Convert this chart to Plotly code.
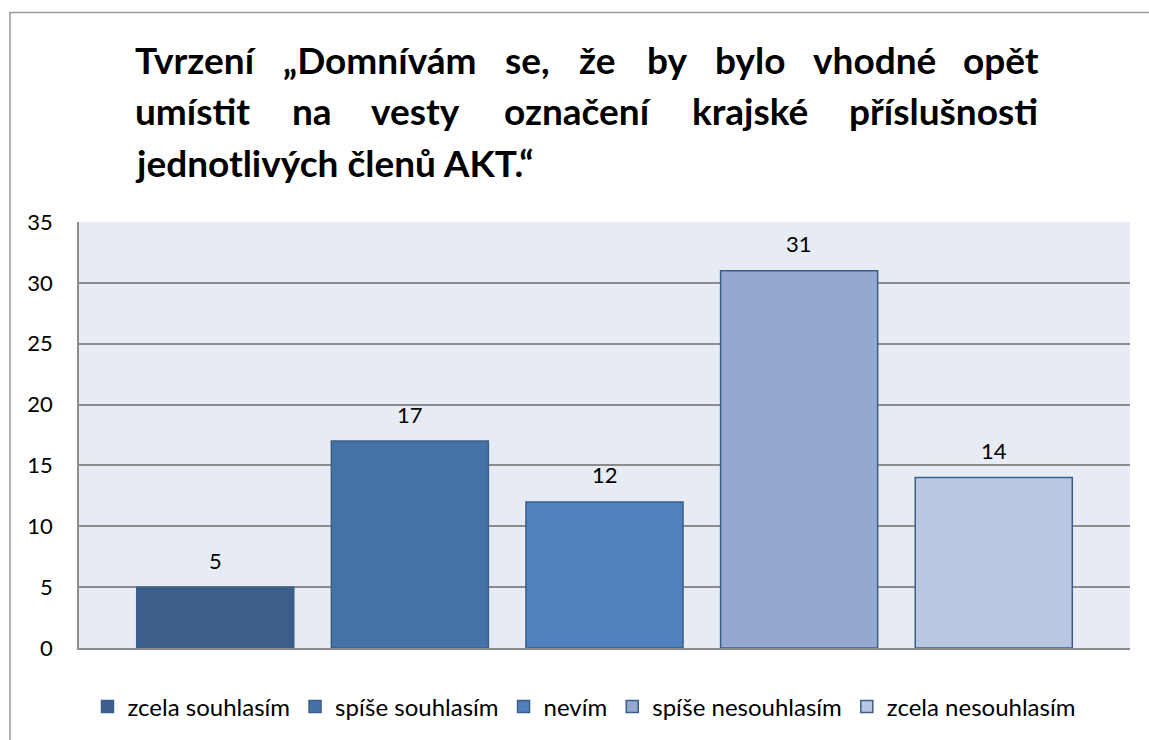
import plotly.graph_objects as go

# ---- data ----
categories = ["zcela souhlasím", "spíše souhlasím", "nevím", "spíše nesouhlasím", "zcela nesouhlasím"]
values = [5, 17, 12, 31, 14]
colors = ["#3B5E8B", "#4472A6", "#4F81BD", "#95A9D0", "#BAC7E0"]
y_ticks = [0, 5, 10, 15, 20, 25, 30, 35]

title_line1 = ["Tvrzení", "„Domnívám", "se,", "že", "by", "bylo", "vhodné", "opět"]
title_line2 = ["umístit", "na", "vesty", "označení", "krajské", "příslušnosti"]
title_line3 = "jednotlivých členů AKT.“"

# ---- layout geometry (pixels) ----
W, H = 1149, 740
L, R, T, B = 79, 1130, 222, 649
pw, ph = R - L, B - T
line1_x = [133, 281, 503, 577, 645, 713, 811, 961]
line2_x = [133, 290, 369, 502, 690, 847]
line_y = [59, 110, 162]

def px(x):
    return (x - L) / pw

def py(y):
    return (B - y) / ph

FONT = "Lato, 'Open Sans', sans-serif"
TITLE_SIZE = 37

fig = go.Figure()
for cat, val, col in zip(categories, values, colors):
    fig.add_trace(go.Bar(
        x=[cat], y=[val], name=cat, width=0.807,
        marker=dict(color=col, line=dict(color="#3A5F8B", width=1.5)),
        hoverinfo="x+y",
    ))

annotations = []
for cat, val in zip(categories, values):
    annotations.append(dict(text=str(val), x=cat, y=val, xref="x", yref="y",
                            xanchor="center", yanchor="middle", yshift=27, showarrow=False,
                            font=dict(size=22, color="black", family=FONT)))
for word, x in zip(title_line1, line1_x):
    annotations.append(dict(text=f"<b>{word}</b>", x=px(x), y=py(line_y[0]), xref="paper", yref="paper",
                            xanchor="left", yanchor="middle", showarrow=False,
                            font=dict(size=TITLE_SIZE, color="black", family=FONT)))
for word, x in zip(title_line2, line2_x):
    annotations.append(dict(text=f"<b>{word}</b>", x=px(x), y=py(line_y[1]), xref="paper", yref="paper",
                            xanchor="left", yanchor="middle", showarrow=False,
                            font=dict(size=TITLE_SIZE, color="black", family=FONT)))
annotations.append(dict(text=f"<b>{title_line3}</b>", x=px(133), y=py(line_y[2]), xref="paper", yref="paper",
                        xanchor="left", yanchor="middle", showarrow=False,
                        font=dict(size=TITLE_SIZE, color="black", family=FONT)))

fig.update_layout(
    width=W, height=H,
    margin=dict(l=L, r=W - R, t=T, b=H - B),
    paper_bgcolor="white", plot_bgcolor="#E7EBF4",
    barmode="overlay",
    showlegend=True,
    legend=dict(orientation="h", x=px(584), xanchor="center", y=py(707), yanchor="middle",
                font=dict(size=24, color="black", family=FONT), itemclick=False,
                traceorder="normal", itemwidth=30),
    xaxis=dict(type="category", range=[-0.70, 4.70], showticklabels=False, showgrid=False,
               showline=True, linecolor="#8C8C8C", linewidth=1.5, zeroline=False, fixedrange=True),
    yaxis=dict(range=[0, 35], tickvals=y_ticks, showgrid=True, gridcolor="#8C8C8C", gridwidth=1.5,
               showline=True, linecolor="#8C8C8C", linewidth=1.5, zeroline=False,
               tickfont=dict(size=22, color="black", family=FONT), ticks="", ticklabelstandoff=20),
    annotations=annotations,
    shapes=[dict(type="rect", xref="paper", yref="paper",
                 x0=px(10), y0=py(H + 20), x1=px(W + 20), y1=py(12),
                 line=dict(color="#999999", width=1.5), fillcolor="rgba(0,0,0,0)", layer="below")],
)

fig.write_html("out.html", config={"displayModeBar": False},
               post_script="document.body.style.margin='0';document.body.style.overflow='hidden';")
